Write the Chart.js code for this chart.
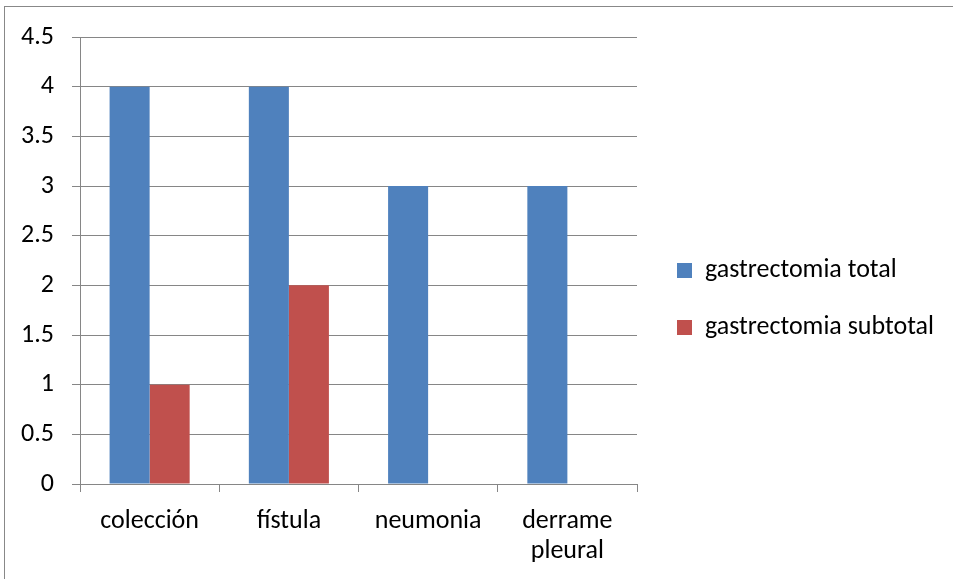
<!DOCTYPE html>
<html>
<head>
<meta charset="utf-8">
<script src="https://cdn.jsdelivr.net/npm/chart.js@4"></script>
<style>
  html, body { margin: 0; padding: 0; background: #fff; }
  #wrap { position: relative; width: 953px; height: 579px; overflow: hidden; }
  #frame { position: absolute; left: 4px; top: 6px; width: 960px; height: 600px; border: 1px solid #888; box-sizing: border-box; }
  canvas { position: absolute; left: 0; top: 0; }
</style>
</head>
<body>
<div id="wrap">
  <div id="frame"></div>
  <canvas id="c" width="953" height="579"></canvas>
</div>
<script>
const categories = ['colección', 'fístula', 'neumonia', ['derrame', 'pleural']];
const seriesNames = ['gastrectomia total', 'gastrectomia subtotal'];
const totalValues = [4, 4, 3, 3];
const subtotalValues = [1, 2, 0, 0];
const yMin = 0, yMax = 4.5, yStep = 0.5;

const FONT = "Calibri, Carlito, Lato, 'Liberation Sans', sans-serif";
const FSIZE = 26;
const GRID = '#868686';
const LEGEND_PAD = 31;

const legendFix = {
  id: 'legendFix',
  afterInit(chart) {
    const lg = chart.legend;
    if (lg) {
      const orig = lg.fit;
      lg.fit = function () {
        orig.call(this);
        this.width = 316;
      };
    }
  },
  afterLayout(chart) {
    const lg = chart.legend;
    if (lg) {
      const w = lg.width;
      lg.left = 677 - LEGEND_PAD;
      lg.right = lg.left + w;
      lg.top = 263 - (FSIZE - 15) / 2 - LEGEND_PAD;
      lg.bottom = lg.top + 400;
    }
  }
};

new Chart(document.getElementById('c'), {
  type: 'bar',
  data: {
    labels: categories,
    datasets: [
      { label: seriesNames[0], data: totalValues, backgroundColor: '#4F81BD', borderWidth: 0 },
      { label: seriesNames[1], data: subtotalValues, backgroundColor: '#C0504D', borderWidth: 0 }
    ]
  },
  options: {
    responsive: false,
    animation: false,
    events: [],
    layout: { padding: { top: 37, left: 0, right: 0, bottom: 0 } },
    datasets: { bar: { categoryPercentage: 0.575, barPercentage: 1.0 } },
    plugins: {
      legend: {
        position: 'right',
        align: 'start',
        labels: {
          color: '#000',
          boxWidth: 15,
          boxHeight: 15,
          padding: LEGEND_PAD,
          font: { family: FONT, size: FSIZE }
        }
      },
      tooltip: { enabled: false },
      title: { display: false }
    },
    scales: {
      x: {
        grid: { display: true, drawOnChartArea: false, drawTicks: true, tickLength: 8, color: GRID, offset: true },
        border: { display: true, color: GRID, width: 1 },
        ticks: { color: '#000', font: { family: FONT, size: FSIZE, lineHeight: 1.15 }, padding: 15, maxRotation: 0, autoSkip: false },
        afterFit(scale) { scale.height = 95; }
      },
      y: {
        min: yMin,
        max: yMax,
        grid: { color: GRID, drawTicks: true, tickLength: 8 },
        border: { display: true, color: GRID, width: 1 },
        ticks: {
          stepSize: yStep, color: '#000', font: { family: FONT, size: FSIZE }, padding: 18,
          callback: (v) => String(Math.round(v * 10) / 10)
        },
        afterFit(scale) { scale.width = 80; }
      }
    }
  },
  plugins: [legendFix]
});
</script>
</body>
</html>
